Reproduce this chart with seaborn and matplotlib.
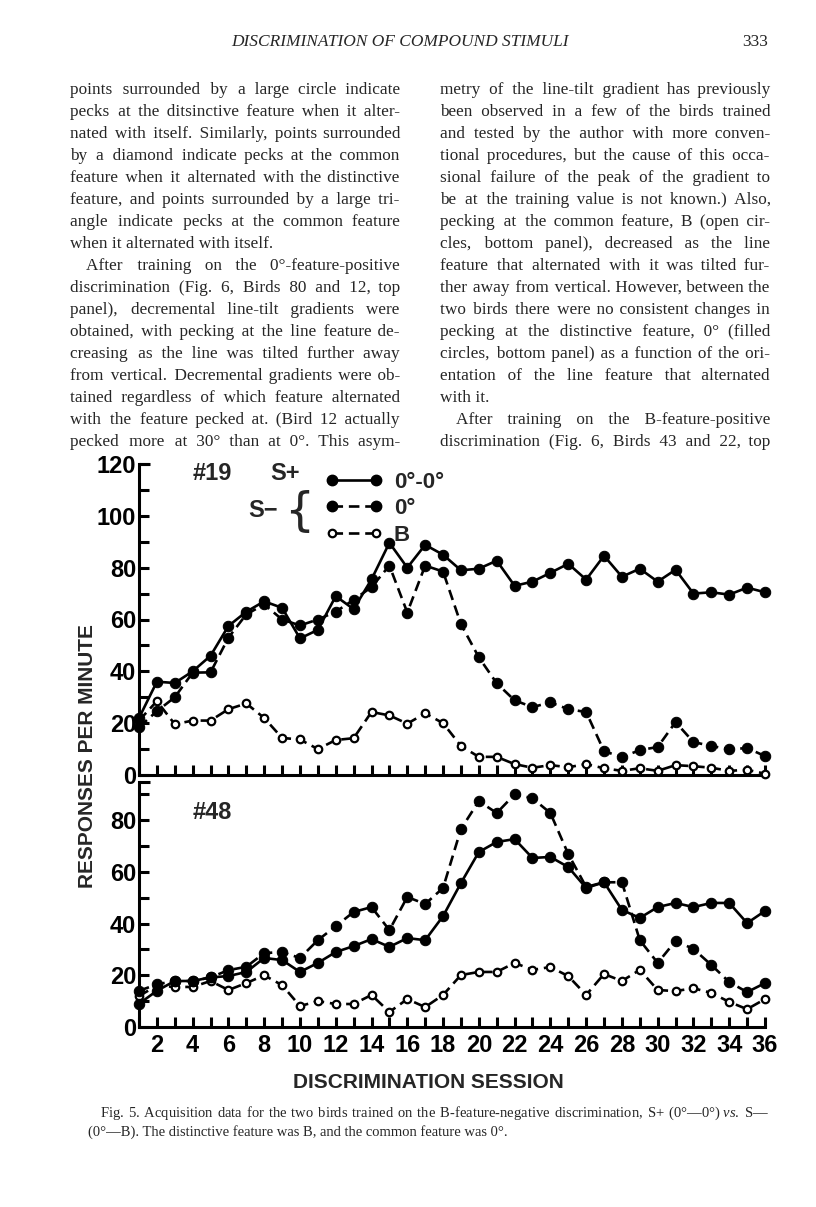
import matplotlib
matplotlib.use("Agg")
import matplotlib.pyplot as plt
from matplotlib.lines import Line2D
import numpy as np
import pandas as pd
import seaborn as sns

# ---------- data
sessions = list(range(1, 37))

# Bird 19 (top panel)
b19_splus = [22, 36, 35.5, 40, 46, 57.5, 63, 67, 64.5, 52.7, 56, 69, 64, 75.5, 89.6, 80,
             88.8, 85, 79, 79.6, 82.7, 73, 74.6, 78, 81.5, 75.4, 84.6, 76.5, 79.6, 74.6,
             79.2, 70, 70.5, 69.6, 72.3, 70.5]
b19_sminus_0 = [18.5, 24.6, 30, 39.5, 39.6, 53, 62, 65.8, 60, 57.7, 60, 63, 67.6, 72.5, 80.8,
                62.7, 80.8, 78.5, 58.2, 45.4, 35.4, 28.8, 26.2, 28, 25.4, 24.3, 9.2, 6.9,
                9.6, 10.8, 20.4, 12.7, 11.2, 9.9, 10.4, 7.3]
b19_sminus_b = [21, 28.5, 19.6, 21, 21, 25.4, 27.6, 22, 14.3, 13.7, 10, 13.5, 14.2, 24.3, 23,
                19.8, 23.8, 20, 11.2, 7, 7, 4.2, 2.8, 3.8, 3, 4.2, 2.6, 1.6, 2.6, 1.6, 3.8,
                3.4, 2.8, 1.6, 2, 0.5]

# Bird 48 (bottom panel)
b48_splus = [9, 14, 17.8, 17.8, 19.2, 19.7, 21.3, 26.7, 25.9, 21.3, 24.8, 29, 31.3, 34, 31,
             34.4, 33.6, 42.9, 55.7, 67.7, 71.6, 72.7, 65.4, 65.8, 61.9, 53.8, 56, 45.3,
             42.2, 46.4, 48, 46.4, 48, 48, 40.2, 44.9]
b48_sminus_0 = [14, 16.5, 17.8, 17.8, 19.2, 22, 23.3, 28.6, 29, 26.7, 33.6, 39, 44.5, 46.4,
                37.5, 50.3, 47.6, 53.8, 76.6, 87.4, 82.8, 90, 88.5, 82.8, 66.9, 54.2, 56, 56,
                33.6, 24.8, 33.3, 30.2, 24, 17.4, 13.5, 17]
b48_sminus_b = [12, 16, 15.5, 15.5, 17.8, 14.3, 17, 20, 16.2, 8.1, 10, 8.9, 8.9, 12.4, 5.8,
                10.8, 7.7, 12.4, 20.1, 21.3, 21.3, 24.8, 22.1, 23.2, 19.7, 12.4, 20.5, 17.8,
                22.1, 14.3, 13.9, 15, 13.2, 9.7, 6.9, 10.8]

x_ticklabels = [str(s) if s % 2 == 0 else "" for s in sessions]

header = "DISCRIMINATION OF COMPOUND STIMULI"
page_no = "333"
left_col = [
    "points surrounded by a large circle indicate",
    "pecks at the ditsinctive feature when it alter-",
    "nated with itself. Similarly, points surrounded",
    "by a diamond indicate pecks at the common",
    "feature when it alternated with the distinctive",
    "feature, and points surrounded by a large tri-",
    "angle indicate pecks at the common feature",
    "when it alternated with itself.",
    "    After training on the 0\u00b0-feature-positive",
    "discrimination (Fig. 6, Birds 80 and 12, top",
    "panel), decremental line-tilt gradients were",
    "obtained, with pecking at the line feature de-",
    "creasing as the line was tilted further away",
    "from vertical. Decremental gradients were ob-",
    "tained regardless of which feature alternated",
    "with the feature pecked at. (Bird 12 actually",
    "pecked more at 30\u00b0 than at 0\u00b0. This asym-",
]
right_col = [
    "metry of the line-tilt gradient has previously",
    "been observed in a few of the birds trained",
    "and tested by the author with more conven-",
    "tional procedures, but the cause of this occa-",
    "sional failure of the peak of the gradient to",
    "be at the training value is not known.) Also,",
    "pecking at the common feature, B (open cir-",
    "cles, bottom panel), decreased as the line",
    "feature that alternated with it was tilted fur-",
    "ther away from vertical. However, between the",
    "two birds there were no consistent changes in",
    "pecking at the distinctive feature, 0\u00b0 (filled",
    "circles, bottom panel) as a function of the ori-",
    "entation of the line feature that alternated",
    "with it.",
    "    After training on the B-feature-positive",
    "discrimination (Fig. 6, Birds 43 and 22, top",
]
paragraph_ends = {"when it alternated with itself.", "with it."}
caption = [
    "Fig. 5. Acquisition data for the two birds trained on the B-feature-negative "
    "discrimination, S+ (0\u00b0\u20140\u00b0) $\\mathit{vs.}$ S\u2014",
    "(0\u00b0\u2014B). The distinctive feature was B, and the common feature was 0\u00b0.",
]

# ---------- styling
sns.set_theme(style="white")
plt.rcParams["font.family"] = ["Liberation Sans", "DejaVu Sans"]
plt.rcParams["mathtext.fontset"] = "custom"
plt.rcParams["mathtext.it"] = "Liberation Serif:italic"
plt.rcParams["mathtext.rm"] = "Liberation Serif"

W, H = 816, 1207
fig = plt.figure(figsize=(W / 100, H / 100), dpi=100)
renderer = fig.canvas.get_renderer()


def fy(px):
    return 1 - px / H


def fx(px):
    return px / W


ax_top = fig.add_axes([fx(139), fy(775), fx(765) - fx(139), fy(464) - fy(775)])
ax_bot = fig.add_axes([fx(139), fy(1027), fx(765) - fx(139), fy(782) - fy(1027)])

LW = 1.9
solid_kw = dict(color="black", linewidth=LW, marker="o", markersize=7.5,
                markerfacecolor="black", markeredgecolor="black", linestyle="-")
dash_kw = dict(color="black", linewidth=LW, marker="o", markersize=7.5,
               markerfacecolor="black", markeredgecolor="black", linestyle=(0, (4, 2.2)))
open_kw = dict(color="black", linewidth=LW, marker="o", markersize=5.4,
               markerfacecolor="white", markeredgecolor="black", markeredgewidth=1.6,
               linestyle=(0, (4, 2.2)))


def draw_panel(ax, splus, s0, sb, ymax, label, label_y):
    df = pd.DataFrame({"session": sessions, "splus": splus, "s0": s0, "sb": sb})
    sns.lineplot(data=df, x="session", y="sb", ax=ax, clip_on=False, zorder=3, **open_kw)
    sns.lineplot(data=df, x="session", y="s0", ax=ax, clip_on=False, zorder=4, **dash_kw)
    sns.lineplot(data=df, x="session", y="splus", ax=ax, clip_on=False, zorder=5, **solid_kw)
    ax.set_xlim(1, 36)
    ax.set_ylim(0, ymax)
    ax.set_xlabel("")
    ax.set_ylabel("")
    for side in ["top", "right"]:
        ax.spines[side].set_visible(False)
    for side in ["left", "bottom"]:
        ax.spines[side].set_linewidth(2.2)
        ax.spines[side].set_color("black")
    yt = list(range(0, int(ymax) + 1, 10))
    ax.set_yticks(yt)
    ax.set_yticklabels([str(v) if v % 20 == 0 else "" for v in yt])
    ax.tick_params(axis="y", direction="in", length=7, width=2.2, pad=2,
                   labelsize=17, colors="black", left=True)
    ax.set_xticks(sessions)
    ax.tick_params(axis="x", direction="in", length=7, width=2.2, pad=5,
                   labelsize=17, colors="black", bottom=True)
    for t in ax.get_yticklabels() + ax.get_xticklabels():
        t.set_fontweight("bold")
    # hook at top of the y axis
    ax.plot([0, 0.018], [1, 1], transform=ax.transAxes, color="black",
            linewidth=2.2, clip_on=False, solid_capstyle="butt")
    ax.text(0.085, label_y, label, transform=ax.transAxes, fontsize=17,
            fontweight="bold", va="center", ha="left")
    ax.grid(False)


draw_panel(ax_top, b19_splus, b19_sminus_0, b19_sminus_b, 120, "#19", 0.97)
draw_panel(ax_bot, b48_splus, b48_sminus_0, b48_sminus_b, 94.8, "#48", 0.875)
ax_top.set_xticklabels([])
ax_bot.set_xticklabels(x_ticklabels)
for t in ax_bot.get_xticklabels():
    t.set_fontweight("bold")

# legend of the top panel
handles = [
    Line2D([], [], **solid_kw),
    Line2D([], [], **dash_kw),
    Line2D([], [], **open_kw),
]
leg = ax_top.legend(handles, ["0\u00b0-0\u00b0", "0\u00b0", "B"], loc="upper left",
                    bbox_to_anchor=(0.265, 1.04), frameon=False, handlelength=2.6,
                    numpoints=2, handletextpad=0.5, labelspacing=0.25,
                    prop=dict(size=16, weight="bold"))
ax_top.text(0.21, 0.97, "S+", transform=ax_top.transAxes, fontsize=17,
            fontweight="bold", va="center", ha="left")
ax_top.text(0.175, 0.85, "S\u2212", transform=ax_top.transAxes, fontsize=17,
            fontweight="bold", va="center", ha="left")
ax_top.text(0.232, 0.845, "{", transform=ax_top.transAxes, fontsize=34,
            va="center", ha="left", family=["DejaVu Sans"])

# axis titles
fig.text(fx(88), fy(756), "RESPONSES PER MINUTE", rotation=90, fontsize=15,
         fontweight="bold", ha="center", va="center")
fig.text(fx(428), fy(1082), "DISCRIMINATION SESSION", fontsize=15,
         fontweight="bold", ha="center", va="center")

# page text: each line is one text object, justified by padding the word gaps
serif = ["Liberation Serif", "DejaVu Serif"]
HAIR = "\u200a"


def text_width(s, size):
    t = fig.text(0, 0, s, fontsize=size, family=serif)
    w = t.get_window_extent(renderer).width
    t.remove()
    return w


def justified(x0, x1, y, line, size, justify=True):
    indent = 16 if line.startswith("    ") else 0
    words = line.split()
    s = " ".join(words)
    if justify and len(words) > 1:
        hw = text_width("a" + HAIR * 10 + "a", size) - text_width("aa", size)
        hw = max(hw / 10, 0.3)
        extra = int(round((x1 - x0 - indent - text_width(s, size)) / hw))
        gaps = len(words) - 1
        if extra > 0:
            pads = [extra // gaps + (1 if i < extra % gaps else 0) for i in range(gaps)]
            s = words[0]
            for w, p in zip(words[1:], pads):
                s += " " + HAIR * p + w
    fig.text(fx(x0 + indent), fy(y), s, fontsize=size, family=serif,
             ha="left", va="center")


fig.text(fx(400), fy(42), header, fontsize=12.5, style="italic", family=serif,
         ha="center", va="center")
fig.text(fx(768), fy(42), page_no, fontsize=12.5, family=serif, ha="right", va="center")
y0, dy = 90, 22.0
for i, line in enumerate(left_col):
    justified(70, 400, y0 + i * dy, line, 12.4, line not in paragraph_ends)
for i, line in enumerate(right_col):
    justified(440, 770, y0 + i * dy, line, 12.4, line not in paragraph_ends)
justified(100, 770, 1113, caption[0], 10.5, True)
justified(88, 770, 1132, caption[1], 10.5, False)

fig.savefig("out.png", dpi=100, facecolor="white")
